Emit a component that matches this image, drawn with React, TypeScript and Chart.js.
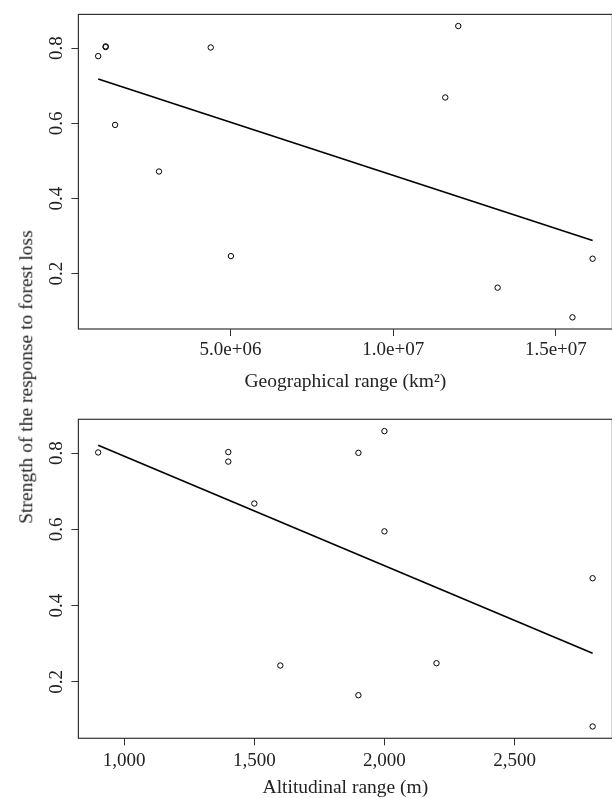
import React, { useEffect, useRef } from "react";
import { Chart, registerables } from "chart.js";

Chart.register(...registerables);

// ---- data ----
const geoRange = [0.93e6, 1.16e6, 1.16e6, 1.45e6, 2.8e6, 4.39e6, 5.01e6, 11.6e6, 12.0e6, 13.21e6, 15.51e6, 16.13e6];
const geoStrength = [0.779, 0.803, 0.805, 0.596, 0.472, 0.802, 0.247, 0.669, 0.859, 0.163, 0.084, 0.24];

const altRange = [900, 1400, 1400, 1500, 1600, 1900, 1900, 2000, 2000, 2200, 2800, 2800];
const altStrength = [0.802, 0.803, 0.778, 0.668, 0.243, 0.801, 0.165, 0.858, 0.595, 0.249, 0.472, 0.083];

const strengthTicks = [0.2, 0.4, 0.6, 0.8];
const strengthTickLabels = ["0.2", "0.4", "0.6", "0.8"];
const geoTicks = [5e6, 1e7, 1.5e7];
const geoTickLabels = ["5.0e+06", "1.0e+07", "1.5e+07"];
const altTicks = [1000, 1500, 2000, 2500];
const altTickLabels = ["1,000", "1,500", "2,000", "2,500"];

const geoTitle = "Geographical range (km\u00B2)";
const altTitle = "Altitudinal range (m)";
const yTitle = "Strength of the response to forest loss";

const FONT = "'Liberation Serif', 'Times New Roman', Times, serif";
const CANVAS_W = 620;
const PLOT_RIGHT = 612.4;
const Y_AXIS_W = 78.4;

function rRange(v: number[]): [number, number] {
  const lo = Math.min(...v);
  const hi = Math.max(...v);
  const d = (hi - lo) * 0.04;
  return [lo - d, hi + d];
}

function lsFit(xs: number[], ys: number[]) {
  const n = xs.length;
  const mx = xs.reduce((a, b) => a + b, 0) / n;
  const my = ys.reduce((a, b) => a + b, 0) / n;
  let sxy = 0;
  let sxx = 0;
  for (let i = 0; i < n; i++) {
    sxy += (xs[i] - mx) * (ys[i] - my);
    sxx += (xs[i] - mx) * (xs[i] - mx);
  }
  const slope = sxy / sxx;
  return { slope, intercept: my - slope * mx };
}

const boxPlugin = {
  id: "rbox",
  afterDatasetsDraw(chart: any) {
    const { ctx, chartArea: a } = chart;
    ctx.save();
    ctx.strokeStyle = "#333";
    ctx.lineWidth = 1.2;
    ctx.strokeRect(a.left, a.top, a.right - a.left, a.bottom - a.top);
    ctx.restore();
  },
};

type PanelProps = {
  xs: number[];
  ys: number[];
  xTicks: number[];
  xTickLabels: string[];
  xTitle: string;
  top: number;
  height: number;
  padTop: number;
  xAxisHeight: number;
  tickPad: number;
  titlePad: number;
};

function Panel(p: PanelProps) {
  const ref = useRef<HTMLCanvasElement | null>(null);
  useEffect(() => {
    if (!ref.current) return;
    const [xmin, xmax] = rRange(p.xs);
    const [ymin, ymax] = rRange(p.ys);
    const { slope, intercept } = lsFit(p.xs, p.ys);
    const lo = Math.min(...p.xs);
    const hi = Math.max(...p.xs);
    const chart = new Chart(ref.current, {
      type: "scatter",
      data: {
        datasets: [
          {
            data: p.xs.map((x, i) => ({ x, y: p.ys[i] })),
            pointStyle: "circle",
            pointRadius: 2.7,
            pointBorderWidth: 1,
            borderColor: "#000",
            backgroundColor: "rgba(0,0,0,0)",
            showLine: false,
          },
          {
            data: [
              { x: lo, y: intercept + slope * lo },
              { x: hi, y: intercept + slope * hi },
            ],
            showLine: true,
            borderColor: "#000",
            borderWidth: 1.7,
            pointRadius: 0,
            backgroundColor: "rgba(0,0,0,0)",
          },
        ],
      },
      options: {
        responsive: false,
        animation: false,
        devicePixelRatio: 1,
        layout: { padding: { left: 0, right: CANVAS_W - PLOT_RIGHT, top: p.padTop, bottom: 0 } },
        plugins: { legend: { display: false }, tooltip: { enabled: false } },
        scales: {
          x: {
            type: "linear",
            position: "bottom",
            min: xmin,
            max: xmax,
            afterBuildTicks: (s: any) => {
              s.ticks = p.xTicks.map((v) => ({ value: v }));
            },
            afterFit: (s: any) => {
              s.height = p.xAxisHeight;
            },
            grid: { display: true, drawOnChartArea: false, drawTicks: true, tickLength: 7, color: "#333", lineWidth: 1 },
            border: { display: false },
            ticks: {
              font: { family: FONT, size: 19 },
              color: "#222",
              padding: p.tickPad,
              minRotation: 0,
              maxRotation: 0,
              autoSkip: false,
              callback: (v: any) => p.xTickLabels[p.xTicks.indexOf(Number(v))],
            },
            title: {
              display: true,
              text: p.xTitle,
              font: { family: FONT, size: 19.5, lineHeight: 1 },
              color: "#222",
              padding: { top: 0, bottom: p.titlePad },
            },
          },
          y: {
            type: "linear",
            position: "left",
            min: ymin,
            max: ymax,
            afterBuildTicks: (s: any) => {
              s.ticks = strengthTicks.map((v) => ({ value: v }));
            },
            afterFit: (s: any) => {
              s.width = Y_AXIS_W;
            },
            grid: { display: true, drawOnChartArea: false, drawTicks: true, tickLength: 7, color: "#333", lineWidth: 1 },
            border: { display: false },
            ticks: {
              font: { family: FONT, size: 19 },
              color: "#222",
              padding: 3,
              minRotation: 90,
              maxRotation: 90,
              crossAlign: "center",
              autoSkip: false,
              callback: (v: any) => strengthTickLabels[strengthTicks.indexOf(Number(v))],
            },
          },
        },
      },
      plugins: [boxPlugin],
    } as any);
    return () => chart.destroy();
  }, []);
  return (
    <canvas
      ref={ref}
      width={CANVAS_W}
      height={p.height}
      style={{ position: "absolute", left: 0, top: p.top, width: CANVAS_W, height: p.height }}
    />
  );
}

export default function App() {
  return (
    <div
      style={{
        position: "absolute",
        left: 0,
        top: 0,
        width: 612,
        height: 798,
        overflow: "hidden",
        background: "#fff",
      }}
    >
      <Panel
        xs={geoRange}
        ys={geoStrength}
        xTicks={geoTicks}
        xTickLabels={geoTickLabels}
        xTitle={geoTitle}
        top={0}
        height={400}
        padTop={10}
        xAxisHeight={71}
        tickPad={3}
        titlePad={8.5}
      />
      <Panel
        xs={altRange}
        ys={altStrength}
        xTicks={altTicks}
        xTickLabels={altTickLabels}
        xTitle={altTitle}
        top={400}
        height={398}
        padTop={19.3}
        xAxisHeight={59.7}
        tickPad={4.5}
        titlePad={0}
      />
      <div
        style={{
          position: "absolute",
          left: 26,
          top: 377,
          transform: "translate(-50%, -50%) rotate(-90deg)",
          whiteSpace: "nowrap",
          fontFamily: FONT,
          fontSize: 19.5,
          color: "#222",
          lineHeight: 1,
        }}
      >
        {yTitle}
      </div>
    </div>
  );
}
